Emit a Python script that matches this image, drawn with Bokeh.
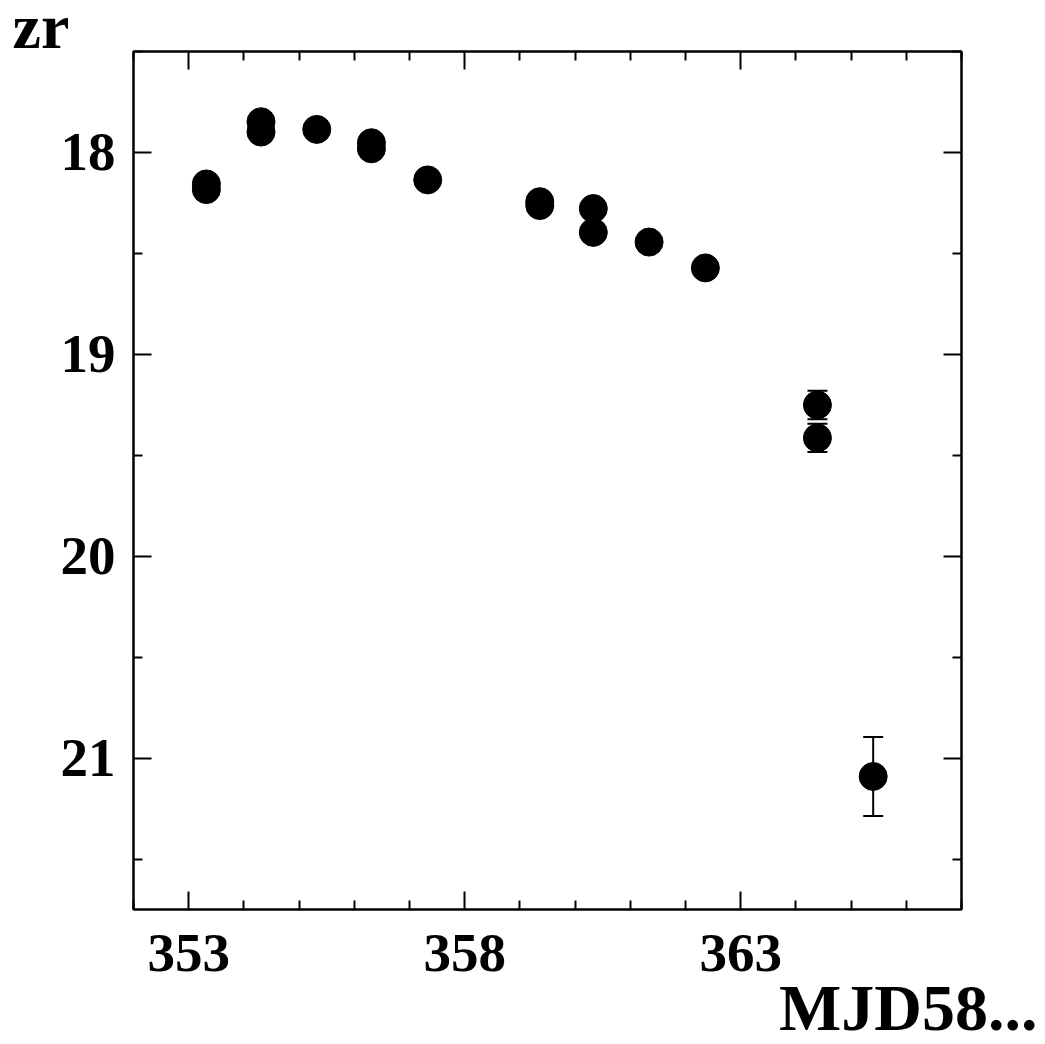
from bokeh.plotting import figure
from bokeh.models import (ColumnDataSource, Range1d, LinearAxis, FixedTicker,
                          Whisker, TeeHead, Title)
from bokeh.embed import file_html
from bokeh.resources import INLINE

# data (MJD - 58000, zr magnitude, error)
mjd = [353.32, 353.32, 354.31, 354.31, 355.32, 356.31, 356.31, 357.33,
       359.36, 359.36, 360.33, 360.33, 361.34, 362.36, 364.39, 364.39, 365.40]
mag = [18.156, 18.184, 17.848, 17.899, 17.886, 17.952, 17.982, 18.136,
       18.244, 18.263, 18.278, 18.396, 18.444, 18.572, 19.251, 19.414, 21.091]
err = [0.02, 0.02, 0.02, 0.02, 0.02, 0.02, 0.02, 0.02,
       0.03, 0.03, 0.03, 0.03, 0.03, 0.03, 0.07, 0.07, 0.196]

x_major = [353, 358, 363]
x_minor = [352, 354, 355, 356, 357, 359, 360, 361, 362, 364, 365, 366, 367]
y_major = [18, 19, 20, 21]
y_minor = [17.5, 18.5, 19.5, 20.5, 21.5]

y_title = "zr"
x_title = "MJD58..."

FONT = "Liberation Serif"
W, H = 1045, 1044

src = ColumnDataSource(dict(
    x=mjd, y=mag,
    upper=[m + e for m, e in zip(mag, err)],
    lower=[m - e for m, e in zip(mag, err)],
))

p = figure(width=W, height=H, output_backend="svg", toolbar_location=None,
           x_range=Range1d(352, 367), y_range=Range1d(21.75, 17.5),
           x_axis_location=None, y_axis_location=None,
           min_border_left=133, min_border_right=84,
           min_border_top=51, min_border_bottom=135,
           background_fill_color="white", border_fill_color="white")
p.grid.visible = False
p.outline_line_color = "black"
p.outline_line_width = 2

xt = FixedTicker(ticks=x_major, minor_ticks=x_minor)
yt = FixedTicker(ticks=y_major, minor_ticks=y_minor)

def style(ax, labels, ticks):
    ax.axis_line_color = "black"
    ax.axis_line_width = 2
    ax.major_tick_line_width = 2
    ax.minor_tick_line_width = 2
    ax.major_tick_in = 18
    ax.major_tick_out = 0
    ax.minor_tick_in = 9
    ax.minor_tick_out = 0
    if labels:
        ax.major_label_text_font = FONT
        ax.major_label_text_font_style = "bold"
        ax.major_label_text_font_size = "55px"
        ax.major_label_text_color = "black"
    else:
        ax.major_label_overrides = {t: "" for t in ticks}
        ax.major_label_standoff = 0

bx = LinearAxis(ticker=xt); style(bx, True, x_major); bx.major_label_standoff = 25
lx = LinearAxis(ticker=yt); style(lx, True, y_major); lx.major_label_standoff = 18
tx = LinearAxis(ticker=xt); style(tx, False, x_major)
rx = LinearAxis(ticker=yt); style(rx, False, y_major)
p.add_layout(bx, "below")
p.add_layout(lx, "left")
p.add_layout(tx, "above")
p.add_layout(rx, "right")

# axis titles as plot titles placed in the side panels
p.add_layout(Title(text=x_title, align="right", offset=-76, standoff=-6,
                   vertical_align="top", text_font=FONT, text_font_style="bold",
                   text_font_size="66px", text_color="black"), "below")
p.add_layout(Title(text=y_title, align="left", offset=-121, standoff=-24,
                   vertical_align="top", text_font=FONT, text_font_style="bold",
                   text_font_size="64px", text_color="black"), "above")

p.add_layout(Whisker(source=src, base="x", upper="upper", lower="lower",
                     dimension="height", line_color="black", line_width=2,
                     upper_head=TeeHead(size=20, line_width=2, line_color="black"),
                     lower_head=TeeHead(size=20, line_width=2, line_color="black")))
p.scatter("x", "y", source=src, size=28, color="black")

open("out.html", "w").write(file_html(p, INLINE))
